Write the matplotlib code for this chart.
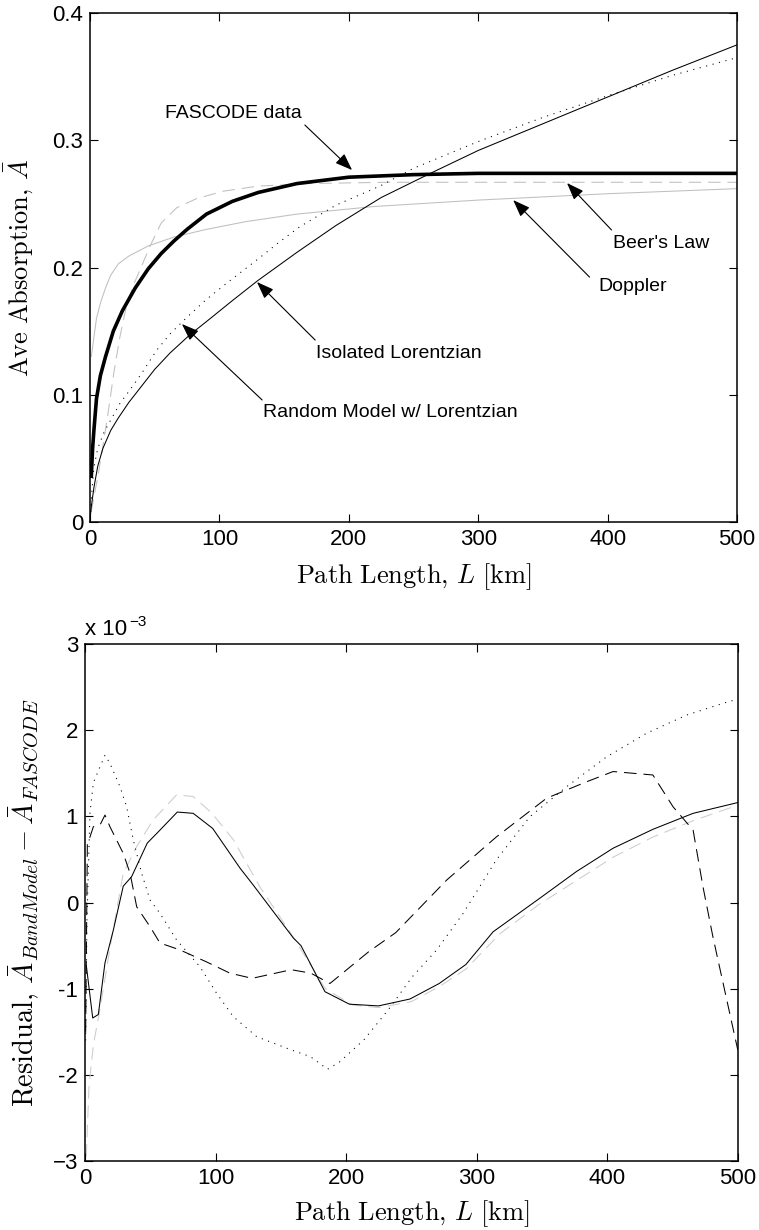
import numpy as np
import matplotlib
matplotlib.use('Agg')
import matplotlib.pyplot as plt

plt.rcParams['font.family'] = ['Liberation Sans', 'DejaVu Sans']
plt.rcParams['mathtext.fontset'] = 'cm'
plt.rcParams['lines.scale_dashes'] = False

# ---- top panel: average absorption vs path length ----
L_fas = [1, 2, 3, 5, 8, 12, 18, 25, 35, 45, 55, 65, 75, 90, 110, 130, 160, 200, 250, 300, 400, 500]
A_fas = [0.036, 0.058, 0.072, 0.097, 0.115, 0.130, 0.150, 0.166, 0.184, 0.199, 0.211, 0.221, 0.230,
         0.242, 0.252, 0.259, 0.266, 0.271, 0.273, 0.274, 0.274, 0.274]

L_beer = [1, 3, 6, 10, 14, 18.5, 23, 28, 33, 39, 46, 55, 67, 82, 103, 130, 170, 230, 300, 400, 500]
A_beer = [0.008, 0.020, 0.035, 0.060, 0.086, 0.118, 0.145, 0.169, 0.185, 0.199, 0.216, 0.235, 0.247,
          0.254, 0.260, 0.264, 0.266, 0.267, 0.267, 0.267, 0.267]

L_dop = [1, 3, 5, 8, 12, 16, 22, 30, 45, 65, 90, 120, 160, 220, 300, 400, 500]
A_dop = [0.130, 0.145, 0.160, 0.172, 0.184, 0.194, 0.203, 0.209, 0.217, 0.224, 0.230, 0.236, 0.242,
         0.248, 0.253, 0.258, 0.262]

L_iso = [0.5, 1.5, 3, 6, 11, 17, 23, 31, 40, 51.5, 62, 75, 90, 106, 129, 145, 162, 190, 224, 250,
         300, 350, 400, 450, 500]
A_iso = [0.008, 0.025, 0.043, 0.058, 0.071, 0.082, 0.093, 0.104, 0.117, 0.135, 0.148, 0.161, 0.175,
         0.188, 0.206, 0.219, 0.232, 0.249, 0.264, 0.278, 0.299, 0.318, 0.335, 0.351, 0.365]

L_rnd = [0.3, 1, 3, 6, 10, 16, 22, 30, 40, 50, 62, 77, 93, 110, 130, 160, 190, 225, 263, 300, 350,
         400, 450, 500]
A_rnd = [0.005, 0.012, 0.027, 0.044, 0.058, 0.072, 0.082, 0.094, 0.107, 0.120, 0.133, 0.147, 0.160,
         0.174, 0.190, 0.212, 0.233, 0.255, 0.274, 0.292, 0.313, 0.334, 0.355, 0.375]

# ---- bottom panel: residuals (units of 1e-3) ----
L_r1 = [1, 5.9, 10.2, 15.3, 21.7, 29.3, 35.7, 47.7, 57.4, 70.7, 82.9, 97.8, 118.7, 129, 159.5, 165.4,
        183.8, 202.5, 224.8, 248.9, 271.3, 291.7, 312.6, 348.4, 376.5, 404.5, 435.1, 465.8, 500]
R_r1 = [-0.73, -1.34, -1.30, -0.70, -0.32, 0.19, 0.30, 0.69, 0.84, 1.05, 1.035, 0.86, 0.40, 0.20,
        -0.41, -0.50, -1.035, -1.18, -1.20, -1.12, -0.94, -0.72, -0.34, 0.05, 0.36, 0.63, 0.85,
        1.035, 1.16]

L_r2 = [1, 3, 6.4, 11, 20, 29.3, 39.6, 52.3, 70.2, 82.9, 97, 113.6, 134, 159.5, 184, 205, 225, 250,
        272, 292, 318, 348, 379, 405, 435, 466, 500]
R_r2 = [-2.95, -2.15, -1.65, -1.28, -0.45, 0.34, 0.65, 0.96, 1.25, 1.23, 1.04, 0.73, 0.18, -0.40,
        -1.00, -1.19, -1.22, -1.15, -0.97, -0.77, -0.36, -0.02, 0.28, 0.53, 0.76, 0.95, 1.13]

L_r3 = [0.5, 1.8, 3.8, 6.4, 11.5, 15.3, 19.1, 29.3, 34.5, 39.6, 49.8, 57.4, 72.7, 93.2, 111, 128,
        158, 173, 187.6, 217.4, 238, 277, 315, 353.5, 384, 404.5, 435, 450.5, 465.8, 473.4, 481, 500]
R_r3 = [-1.5, 0.69, 0.76, 0.88, 0.90, 1.015, 0.88, 0.57, 0.34, -0.05, -0.28, -0.47, -0.55, -0.69,
        -0.82, -0.88, -0.78, -0.82, -0.94, -0.57, -0.35, 0.26, 0.76, 1.21, 1.40, 1.52, 1.48, 1.11,
        0.84, 0.18, -0.40, -1.71]

L_r4 = [0.5, 1.5, 3.8, 6.4, 11.5, 15.3, 19.1, 26.8, 31.9, 37, 43.4, 49.8, 57.4, 70.2, 88, 100.8,
        113.6, 131.5, 157.8, 172.8, 185.8, 195, 213.6, 232.2, 250.8, 269.4, 289.7, 315, 340.7, 368.8,
        399.5, 430, 460.7, 492.6, 500]
R_r4 = [-1.6, -0.2, 1.04, 1.39, 1.575, 1.71, 1.615, 1.343, 1.11, 0.725, 0.339, 0.029, -0.125, -0.435,
        -0.745, -1.053, -1.325, -1.557, -1.71, -1.79, -1.935, -1.85, -1.595, -1.247, -0.86, -0.55,
        -0.125, 0.493, 0.995, 1.343, 1.69, 1.963, 2.175, 2.33, 2.36]

thin = 0.75
gray = (0.75, 0.75, 0.75)
dash = (0, (9, 5))
dot = (0, (0.8, 4))
tick_fs = 16
lab_fs = 19
ann_fs = 14

fig = plt.figure(figsize=(7.59, 12.30), dpi=100)

def style(ax):
    ax.tick_params(direction='in', top=True, right=True, length=6, width=0.8,
                   labelsize=tick_fs, pad=5)
    for s in ax.spines.values():
        s.set_linewidth(1.1)

xlab = r'$\mathrm{Path\ Length,}\,L\ \mathrm{[km]}$'

# top panel
ax1 = fig.add_axes([0.1186, 0.5756, 0.8525, 0.4138])
ax1.plot(L_dop, A_dop, color=gray, lw=thin)
ax1.plot(L_beer, A_beer, color=gray, lw=thin, linestyle=dash)
ax1.plot(L_iso, A_iso, color='k', lw=thin, linestyle=dot)
ax1.plot(L_rnd, A_rnd, color='k', lw=thin)
ax1.plot(L_fas, A_fas, color='k', lw=2.6)
ax1.set_xlim(0, 500)
ax1.set_ylim(0, 0.4)
ax1.set_xticks([0, 100, 200, 300, 400, 500])
ax1.set_yticks([0, 0.1, 0.2, 0.3, 0.4])
ax1.set_yticklabels(['0', '0.1', '0.2', '0.3', '0.4'])
style(ax1)
ax1.set_xlabel(xlab, fontsize=lab_fs)
ax1.set_ylabel(r'$\mathrm{Ave\ Absorption,}\,\bar{A}$', fontsize=lab_fs)
ax1.xaxis.set_label_coords(0.5, -0.078)
ax1.yaxis.set_label_coords(-0.085, 0.5)

arrow = dict(arrowstyle='-|>,head_length=0.75,head_width=0.28', lw=0.8, color='k',
             shrinkA=0, shrinkB=0)
notes = [
    ('FASCODE data', (111, 0.3214), (166, 0.312), (202.5, 0.2766)),
    ("Beer's Law", (441, 0.219), (403, 0.2295), (368.6, 0.2664)),
    ('Doppler', (419, 0.1847), (386, 0.1925), (327, 0.253)),
    ('Isolated Lorentzian', (239, 0.1328), (174, 0.143), (129, 0.1886)),
    ('Random Model w/ Lorentzian', (232, 0.0857), (133, 0.0959), (71, 0.1556)),
]
for txt, pos, tail, tip in notes:
    ax1.text(pos[0], pos[1], txt, fontsize=ann_fs, ha='center', va='center')
    ax1.annotate('', xy=tip, xytext=tail, arrowprops=arrow, fontsize=ann_fs)

# bottom panel
ax2 = fig.add_axes([0.112, 0.0561, 0.860, 0.4203])
ax2.plot(L_r2, R_r2, color=(0.8, 0.8, 0.8), lw=thin, linestyle=dash)
ax2.plot(L_r1, R_r1, color='k', lw=thin)
ax2.plot(L_r3, R_r3, color='k', lw=thin, linestyle=dash)
ax2.plot(L_r4, R_r4, color='k', lw=thin, linestyle=dot)
ax2.set_xlim(0, 500)
ax2.set_ylim(-3, 3)
ax2.set_xticks([0, 100, 200, 300, 400, 500])
ax2.set_yticks([-3, -2, -1, 0, 1, 2, 3])
ax2.set_yticklabels(['\u22123', '-2', '-1', '0', '1', '2', '3'])
style(ax2)
ax2.set_xlabel(xlab, fontsize=lab_fs)
ax2.set_ylabel(r'$\mathrm{Residual,}\,\bar{A}_{BandModel} - \bar{A}_{FASCODE}$', fontsize=20.5)
ax2.xaxis.set_label_coords(0.5, -0.072)
ax2.yaxis.set_label_coords(-0.066, 0.5)
ax2.text(0.0, 1.008, 'x 10', transform=ax2.transAxes, fontsize=tick_fs, ha='left', va='bottom')
ax2.text(0.068, 1.03, '\u22123', transform=ax2.transAxes, fontsize=11, ha='left', va='bottom')

fig.savefig('out.png', dpi=100)
